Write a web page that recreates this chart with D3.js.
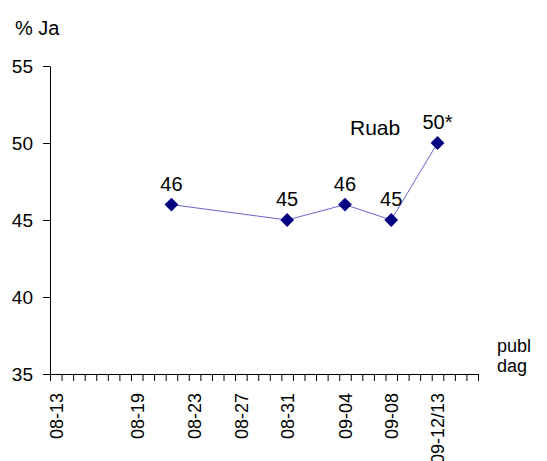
<!DOCTYPE html>
<html>
<head>
<meta charset="utf-8">
<script src="https://cdn.jsdelivr.net/npm/d3@7/dist/d3.min.js"></script>
<style>
  html, body { margin: 0; padding: 0; background: #fff; }
  svg { display: block; font-family: "Liberation Sans", Arial, sans-serif; }
</style>
</head>
<body>
<svg id="chart" width="547" height="461"></svg>
<script>
// ---- data ----
const categories = [
  "08-13", "", "", "", "", "", "", "08-19", "", "", "",
  "", "08-23", "", "", "", "08-27", "", "", "", "08-31",
  "", "", "", "", "09-04", "", "", "", "09-08", "",
  "", "", "09-12/13", "", "", ""
];
const values = [
  null, null, null, null, null, null, null, null, null, null, 46,
  null, null, null, null, null, null, null, null, null, 45,
  null, null, null, null, 46, null, null, null, 45, null,
  null, null, 50, null, null, null
];
const pointLabels = ["46", "45", "46", "45", "50*"];
const yTicks = [35, 40, 45, 50, 55];
const seriesName = "Ruab";
const yTitle = "% Ja";
const xTitle = ["publ", "dag"];

// ---- layout ----
const svg = d3.select("#chart");
const pL = 50, pR = 478, pT = 66, pB = 374;
const fs = 18;

const x = d3.scaleLinear().domain([0, categories.length]).range([pL, pR]);
const y = d3.scaleLinear().domain([35, 55]).range([pB, pT]);

// y axis
const yAxis = svg.append("g").attr("transform", `translate(${pL},0)`)
  .call(d3.axisLeft(y).tickValues(yTicks).tickSize(7).tickSizeOuter(0).tickPadding(10));
yAxis.selectAll("text").style("font-size", "19px").attr("fill", "#000")
  .style("font-family", "Liberation Sans, Arial, sans-serif");
yAxis.select(".domain").attr("stroke", "#000");
yAxis.selectAll(".tick line").attr("stroke", "#000");

// x axis (day ticks)
const xAxis = svg.append("g").attr("transform", `translate(0,${pB})`)
  .call(d3.axisBottom(x).tickValues(d3.range(0, categories.length + 1))
    .tickSize(7).tickSizeOuter(0).tickFormat(""));
xAxis.select(".domain").attr("stroke", "#000");
xAxis.selectAll(".tick line").attr("stroke", "#000");

// x labels (rotated)
const labelIdx = categories.map((c, i) => i).filter(i => categories[i] !== "");
const xLab = svg.append("g").attr("transform", `translate(0,${pB})`)
  .call(d3.axisBottom(x).tickValues(labelIdx.map(i => i + 0.5))
    .tickSize(0).tickFormat(v => categories[Math.floor(v)]));
xLab.select(".domain").remove();
xLab.selectAll("text")
  .style("font-size", fs + "px").attr("fill", "#000")
  .style("font-family", "Liberation Sans, Arial, sans-serif")
  .attr("text-anchor", "end")
  .attr("transform", "rotate(-90)")
  .attr("x", -19).attr("y", 0).attr("dy", "0.35em");

// line
const pts = values.map((v, i) => ({ i, v })).filter(d => d.v !== null);
svg.append("path")
  .datum(pts)
  .attr("fill", "none")
  .attr("stroke", "#6666cc")
  .attr("stroke-width", 1)
  .attr("d", d3.line().x(d => x(d.i + 0.5)).y(d => y(d.v)));

// markers
svg.selectAll("path.mk").data(pts).enter().append("path")
  .attr("class", "mk")
  .attr("d", d3.symbol().type(d3.symbolSquare).size(95))
  .attr("transform", d => `translate(${x(d.i + 0.5)},${y(d.v)}) rotate(45)`)
  .attr("fill", "#000080");

// point labels
svg.selectAll("text.pl").data(pts).enter().append("text")
  .attr("class", "pl")
  .attr("x", d => x(d.i + 0.5))
  .attr("y", d => y(d.v) - 14)
  .attr("text-anchor", "middle")
  .style("font-size", "20px")
  .text((d, k) => pointLabels[k]);

// series name
svg.append("text").attr("x", 350).attr("y", 135)
  .style("font-size", "21px").text(seriesName);

// titles
svg.append("text").attr("x", 15).attr("y", 35).style("font-size", "20px").text(yTitle);
svg.append("text").attr("x", 497).attr("y", 352).style("font-size", fs + "px").text(xTitle[0]);
svg.append("text").attr("x", 497).attr("y", 372).style("font-size", fs + "px").text(xTitle[1]);
</script>
</body>
</html>
